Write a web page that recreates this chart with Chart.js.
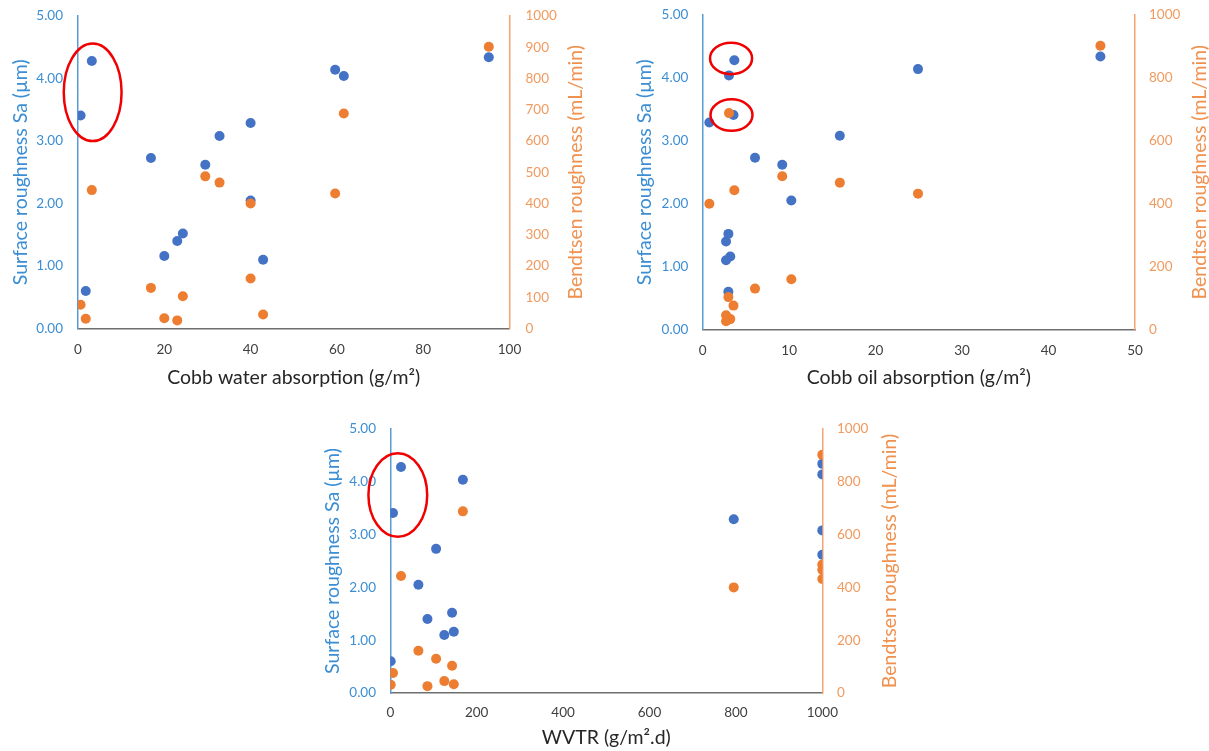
<!DOCTYPE html>
<html>
<head>
<meta charset="utf-8">
<script src="https://cdn.jsdelivr.net/npm/chart.js@4.4.1/dist/chart.umd.min.js"></script>
<style>
  html, body { margin: 0; padding: 0; background: #fff; }
  body { position: relative; width: 1209px; height: 751px; overflow: hidden; }
  canvas { position: absolute; }
</style>
</head>
<body>
<canvas id="cobbWaterChart" width="600" height="403" style="left:0px;top:-8px"></canvas>
<canvas id="cobbOilChart" width="600" height="404" style="left:620px;top:-9px"></canvas>
<canvas id="wvtrChart" width="620" height="346" style="left:300px;top:405px"></canvas>
<script>
// one entry per sample, same order in every array
const surfaceSa = [3.41, 4.28, 0.60, 2.73, 1.16, 1.40, 1.52, 2.62, 3.08, 3.29, 2.05, 1.10, 4.14, 4.04, 4.34];
const bendtsen = [76, 443, 31, 130, 33, 26, 103, 487, 467, 400, 160, 45, 432, 688, 902];
const cobbWater = [0.6, 3.2, 1.8, 16.9, 20.0, 23.0, 24.3, 29.5, 32.8, 40.0, 40.0, 42.9, 59.6, 61.6, 95.2];
const cobbOil = [3.56, 3.66, 2.97, 6.05, 3.19, 2.70, 2.97, 9.2, 15.86, 0.77, 10.25, 2.70, 24.9, 3.04, 46.0];
const wvtr = [6.3, 24.8, 0.9, 106, 147, 86, 143, 1000, 1000, 795, 65, 125, 1000, 168, 1000];

// red rings drawn over the plots (data units)
const waterRings = [{ x: 3.4, y: 3.78, rx: 6.7, ry: 0.78 }];
const oilRings = [{ x: 3.28, y: 4.31, rx: 2.43, ry: 0.25 }, { x: 3.33, y: 3.41, rx: 2.43, ry: 0.25 }];
const wvtrRings = [{ x: 17.4, y: 3.75, rx: 68, ry: 0.79 }];

const FONT = 'Lato, "Open Sans", sans-serif';
const TITLE_SIZE = 19.5;
const TICK_SIZE = 13.5;
const BLUE = '#4472C4';
const ORANGE = '#ED7D31';
const RIGHT_TITLE = 'Bendtsen roughness (mL/min)';

/* ====== RING ANNOTATION PLUGIN ====== */
const ringPlugin = {
  id: 'rings',
  afterDatasetsDraw(chart, args, opts) {
    const xs = chart.scales.x, ys = chart.scales.y;
    const ctx = chart.ctx;
    (opts.items || []).forEach(r => {
      const cx = xs.getPixelForValue(r.x);
      const cy = ys.getPixelForValue(r.y);
      const rx = Math.abs(xs.getPixelForValue(r.x + r.rx) - cx);
      const ry = Math.abs(ys.getPixelForValue(r.y + r.ry) - cy);
      ctx.save();
      ctx.beginPath();
      ctx.ellipse(cx, cy, rx, ry, 0, 0, Math.PI * 2);
      ctx.strokeStyle = '#F00000';
      ctx.lineWidth = 2.5;
      ctx.stroke();
      ctx.restore();
    });
  }
};

/* right axis title reads bottom-to-top like the left one */
const rightTitlePlugin = {
  id: 'rightTitle',
  afterDraw(chart, args, opts) {
    const { ctx, chartArea } = chart;
    ctx.save();
    ctx.translate(chart.width - opts.offset, (chartArea.top + chartArea.bottom) / 2);
    ctx.rotate(-Math.PI / 2);
    ctx.font = `${TITLE_SIZE}px ${FONT}`;
    ctx.fillStyle = '#F0914F';
    ctx.textAlign = 'center';
    ctx.textBaseline = 'middle';
    ctx.fillText(opts.text, 0, 0);
    ctx.restore();
  }
};

function pairs(xs, ys) {
  return xs.map((v, i) => ({ x: v, y: ys[i] }));
}

function makeChart(id, xValues, g) {
  const W = g.W, H = g.H;
  new Chart(document.getElementById(id), {
    type: 'scatter',
    data: {
      datasets: [
        {
          label: 'Bendtsen roughness',
          data: pairs(xValues, bendtsen),
          yAxisID: 'y2',
          backgroundColor: ORANGE,
          borderColor: ORANGE,
          pointRadius: 5,
          pointBorderWidth: 0,
          order: 0
        },
        {
          label: 'Surface roughness Sa',
          data: pairs(xValues, surfaceSa),
          yAxisID: 'y',
          backgroundColor: BLUE,
          borderColor: BLUE,
          pointRadius: 5,
          pointBorderWidth: 0,
          order: 1
        }
      ]
    },
    options: {
      responsive: false,
      animation: false,
      events: [],
      layout: { padding: { top: g.top, left: 0, right: 0, bottom: 0 } },
      plugins: {
        legend: { display: false },
        tooltip: { enabled: false },
        rings: { items: g.rings },
        rightTitle: { text: RIGHT_TITLE, offset: g.y2TitleX }
      },
      scales: {
        x: {
          type: 'linear',
          position: 'bottom',
          min: 0,
          max: g.xMax,
          ticks: {
            stepSize: g.xStep,
            autoSkip: false,
            maxRotation: 0,
            color: '#404040',
            padding: g.xTickPad,
            font: { family: FONT, size: TICK_SIZE },
            callback: v => String(v)
          },
          grid: { display: false, drawTicks: false },
          border: { display: true, color: '#6f6f6f', width: 1.5 },
          title: {
            display: true,
            text: g.xTitle,
            color: '#262626',
            font: { family: FONT, size: TITLE_SIZE },
            // bottom titles are offset from the canvas edge by padding.bottom
            padding: { top: 0, bottom: g.xTitlePad }
          },
          afterFit: s => { s.height = H - g.bottom; }
        },
        y: {
          type: 'linear',
          position: 'left',
          min: 0,
          max: 5,
          ticks: {
            stepSize: 1,
            color: '#3B8ED4',
            padding: g.yTickPad,
            font: { family: FONT, size: TICK_SIZE },
            callback: v => v.toFixed(2)
          },
          grid: { display: false, drawTicks: false },
          border: { display: true, color: '#5B9BD5', width: 1.5 },
          title: {
            display: true,
            text: 'Surface roughness Sa (µm)',
            color: '#3B8ED4',
            font: { family: FONT, size: TITLE_SIZE },
            padding: { top: g.yTitlePad, bottom: 0 }
          },
          afterFit: s => { s.width = g.left; }
        },
        y2: {
          type: 'linear',
          position: 'right',
          min: 0,
          max: 1000,
          ticks: {
            stepSize: g.y2Step,
            color: '#F19A5E',
            padding: g.y2TickPad,
            font: { family: FONT, size: TICK_SIZE },
            callback: v => String(v)
          },
          grid: { display: false, drawTicks: false },
          border: { display: true, color: '#F4A470', width: 1.5 },
          title: { display: false },
          afterFit: s => { s.width = W - g.right; }
        }
      }
    },
    plugins: [ringPlugin, rightTitlePlugin]
  });
}

makeChart('cobbWaterChart', cobbWater, {
  W: 600, H: 403, left: 78, right: 509.5, top: 24, bottom: 336.5,
  xMax: 100, xStep: 20, y2Step: 100,
  xTitle: 'Cobb water absorption (g/m²)',
  xTickPad: 13, xTitlePad: 6, yTickPad: 15, yTitlePad: 9, y2TickPad: 16, y2TitleX: 24,
  rings: waterRings
});

makeChart('cobbOilChart', cobbOil, {
  W: 600, H: 404, left: 82.7, right: 515, top: 24, bottom: 338.5,
  xMax: 50, xStep: 10, y2Step: 200,
  xTitle: 'Cobb oil absorption (g/m²)',
  xTickPad: 13, xTitlePad: 6, yTickPad: 14.4, yTitlePad: 13, y2TickPad: 14, y2TitleX: 20,
  rings: oilRings
});

makeChart('wvtrChart', wvtr, {
  W: 620, H: 346, left: 90.3, right: 522.3, top: 24, bottom: 288,
  xMax: 1000, xStep: 200, y2Step: 200,
  xTitle: 'WVTR (g/m².d)',
  xTickPad: 12, xTitlePad: 2, yTickPad: 14.3, yTitlePad: 21, y2TickPad: 14.7, y2TitleX: 30,
  rings: wvtrRings
});
</script>
</body>
</html>
